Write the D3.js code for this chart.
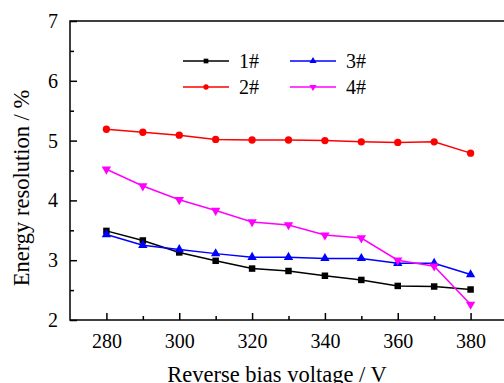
<!DOCTYPE html>
<html>
<head>
<meta charset="utf-8">
<script src="https://cdn.jsdelivr.net/npm/d3@7"></script>
<style>
  body { margin: 0; background: #fff; }
  svg { display: block; }
</style>
</head>
<body>
<div id="chart"></div>
<script>
const w = 504;
const h = 383;

// reverse bias voltage (V)
const voltages = [280, 290, 300, 310, 320, 330, 340, 350, 360, 370, 380];
const s1 = [3.49, 3.33, 3.13, 2.99, 2.86, 2.82, 2.74, 2.67, 2.57, 2.56, 2.51];
const s2 = [5.19, 5.14, 5.09, 5.02, 5.01, 5.01, 5.00, 4.98, 4.97, 4.98, 4.79];
const s3 = [3.43, 3.25, 3.18, 3.11, 3.05, 3.05, 3.03, 3.03, 2.95, 2.95, 2.76];
const s4 = [4.52, 4.24, 4.01, 3.83, 3.64, 3.59, 3.42, 3.37, 3.00, 2.90, 2.26];
const seriesNames = ["1#", "2#", "3#", "4#"];
const xTicks = [280, 300, 320, 340, 360, 380];
const yTicks = [2, 3, 4, 5, 6, 7];

const series = [
  { name: seriesNames[0], values: s1, color: "#000000", marker: "square" },
  { name: seriesNames[1], values: s2, color: "#ff0000", marker: "circle" },
  { name: seriesNames[2], values: s3, color: "#0000ff", marker: "triangle" },
  { name: seriesNames[3], values: s4, color: "#ff00ff", marker: "triangleDown" }
];

const padLeft = 70, padTop = 21, plotBottom = 320;
const font = "'Liberation Serif', 'Times New Roman', serif";

const svg = d3.select("#chart").append("svg")
  .attr("width", w)
  .attr("height", h);

const x = d3.scaleLinear().domain([270, 390]).range([padLeft, 507]);
const y = d3.scaleLinear().domain([2, 7]).range([plotBottom, padTop]);

// frame
svg.append("rect")
  .attr("x", padLeft).attr("y", padTop)
  .attr("width", x(390) - padLeft).attr("height", plotBottom - padTop)
  .attr("fill", "none").attr("stroke", "#000").attr("stroke-width", 1.5);

// x axis, ticks pointing inward
const xAxis = svg.append("g")
  .attr("transform", "translate(0," + plotBottom + ")")
  .call(d3.axisBottom(x).tickValues(xTicks).tickSize(-7).tickPadding(14).tickFormat(d3.format("d")));
xAxis.select(".domain").remove();
svg.append("g")
  .attr("transform", "translate(0," + plotBottom + ")")
  .call(d3.axisBottom(x).tickValues(d3.range(290, 390, 20)).tickSize(-4).tickFormat(""))
  .select(".domain").remove();

const yAxis = svg.append("g")
  .attr("transform", "translate(" + padLeft + ",0)")
  .call(d3.axisLeft(y).tickValues(yTicks).tickSize(-7).tickPadding(12).tickFormat(d3.format("d")));
yAxis.select(".domain").remove();
svg.append("g")
  .attr("transform", "translate(" + padLeft + ",0)")
  .call(d3.axisLeft(y).tickValues(d3.range(2.5, 7, 1)).tickSize(-4).tickFormat(""))
  .select(".domain").remove();

svg.selectAll(".tick line").attr("stroke", "#000").attr("stroke-width", 1.5);
svg.selectAll(".tick text")
  .attr("font-family", font)
  .attr("font-size", 20)
  .attr("fill", "#000");

// axis titles
svg.append("text")
  .text("Reverse bias voltage / V")
  .attr("x", 277).attr("y", 382)
  .attr("text-anchor", "middle")
  .attr("font-family", font).attr("font-size", 22.5).attr("fill", "#000");

svg.append("text")
  .text("Energy resolution / %")
  .attr("transform", "translate(29," + 188 + ") rotate(-90)")
  .attr("text-anchor", "middle")
  .attr("font-family", font).attr("font-size", 22.5).attr("fill", "#000");

const symbolFor = (m) => {
  if (m === "square") return d3.symbol().type(d3.symbolSquare).size(42);
  if (m === "circle") return d3.symbol().type(d3.symbolCircle).size(42);
  return d3.symbol().type(d3.symbolTriangle).size(38);
};
const markerTransform = (m, px, py) => {
  return "translate(" + px + "," + py + ")" + (m === "triangleDown" ? " rotate(180)" : "");
};

const line = d3.line()
  .x((d, i) => x(voltages[i]))
  .y((d) => y(d));

series.forEach((s) => {
  const g = svg.append("g");
  g.append("path")
    .attr("d", line(s.values))
    .attr("fill", "none")
    .attr("stroke", s.color)
    .attr("stroke-width", 1.5);
  g.selectAll("path.mk")
    .data(s.values)
    .enter()
    .append("path")
    .attr("class", "mk")
    .attr("d", symbolFor(s.marker))
    .attr("transform", (d, i) => markerTransform(s.marker, x(voltages[i]), y(d)))
    .attr("fill", s.color);
});

// legend
const legendPos = [
  { lx: 183, ly: 61 }, { lx: 183, ly: 87 },
  { lx: 290, ly: 61 }, { lx: 290, ly: 87 }
];
series.forEach((s, i) => {
  const p = legendPos[i];
  const g = svg.append("g");
  g.append("line")
    .attr("x1", p.lx).attr("x2", p.lx + 46)
    .attr("y1", p.ly).attr("y2", p.ly)
    .attr("stroke", s.color).attr("stroke-width", 1.5);
  g.append("path")
    .attr("d", (s.marker === "square" ? d3.symbol().type(d3.symbolSquare).size(22)
      : s.marker === "circle" ? d3.symbol().type(d3.symbolCircle).size(22)
      : d3.symbol().type(d3.symbolTriangle).size(22)))
    .attr("transform", markerTransform(s.marker, p.lx + 23, p.ly))
    .attr("fill", s.color);
  g.append("text")
    .text(s.name)
    .attr("x", p.lx + 56).attr("y", p.ly + 7)
    .attr("font-family", font).attr("font-size", 20).attr("fill", "#000");
});
</script>
</body>
</html>
